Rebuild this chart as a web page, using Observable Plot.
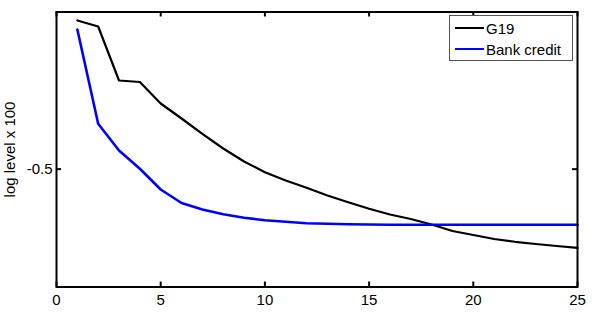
<!DOCTYPE html>
<html>
<head>
<meta charset="utf-8">
<script src="https://cdn.jsdelivr.net/npm/d3@7"></script>
<script src="https://cdn.jsdelivr.net/npm/@observablehq/plot@0.6"></script>
<style>
  html, body { margin: 0; padding: 0; background: #fff; }
  #wrap { position: relative; width: 600px; height: 323px; font-family: "Liberation Sans", Arial, Helvetica, sans-serif; }
  #legend { position: absolute; left: 449px; top: 15px; width: 122px; height: 44px; border: 1px solid #555; background: #fff; font-size: 15px; color: #000; }
  .row { position: absolute; left: 0; height: 20px; display: flex; align-items: center; }
  .sw { display: inline-block; width: 29px; margin-left: 5px; margin-right: 2px; }
</style>
</head>
<body>
<div id="wrap"></div>
<script>
const steps = [1,2,3,4,5,6,7,8,9,10,11,12,13,14,15,16,17,18,19,20,21,22,23,24,25];
const g19 = [-0.1216,-0.1369,-0.2744,-0.2782,-0.3329,-0.3711,-0.4100,-0.4475,-0.4805,-0.5078,-0.5289,-0.5475,-0.5671,-0.5841,-0.6009,-0.6155,-0.6269,-0.6409,-0.6575,-0.6676,-0.6778,-0.6849,-0.6905,-0.6956,-0.7002];
const bank = [-0.1445,-0.3846,-0.4525,-0.4991,-0.5518,-0.5862,-0.6027,-0.6147,-0.6238,-0.6300,-0.6340,-0.6376,-0.6391,-0.6402,-0.6409,-0.6414,-0.6414,-0.6414,-0.6414,-0.6414,-0.6414,-0.6414,-0.6414,-0.6414,-0.6414];
const seriesNames = ["G19", "Bank credit"];
const seriesColors = ["#000000", "#0000ff"];
const xTicks = [0,5,10,15,20,25];
const yTicks = [-0.5];
const yLabel = "log level x 100";

const data = steps.map((s, i) => ({s, g19: g19[i], bank: bank[i]}));

const chart = Plot.plot({
  width: 600,
  height: 323,
  marginLeft: 56,
  marginRight: 23,
  marginTop: 11.5,
  marginBottom: 36.5,
  x: {domain: [0, 25]},
  y: {domain: [-0.8, -0.1]},
  style: {fontFamily: "'Liberation Sans', Arial, Helvetica, sans-serif", fontSize: "15px", background: "white", color: "black"},
  marks: [
    Plot.line(data, {x: "s", y: "g19", stroke: seriesColors[0], strokeWidth: 2.2}),
    Plot.line(data, {x: "s", y: "bank", stroke: seriesColors[1], strokeWidth: 2.6}),
    Plot.tickX(xTicks, {x: d => d, insetTop: 270, stroke: "black", strokeWidth: 2}),
    Plot.tickX(xTicks, {x: d => d, insetBottom: 270, stroke: "black", strokeWidth: 2}),
    Plot.tickY(yTicks, {y: d => d, insetRight: 516, stroke: "black", strokeWidth: 2}),
    Plot.tickY(yTicks, {y: d => d, insetLeft: 516, stroke: "black", strokeWidth: 2}),
    Plot.axisX({ticks: xTicks, tickSize: 0, tickPadding: 7, tickFormat: d => String(d), label: null}),
    Plot.axisY({ticks: yTicks, tickSize: 0, tickPadding: 4, tickFormat: d => String(d), label: null}),
    Plot.text([yLabel], {frameAnchor: "left", textAnchor: "middle", dx: -46, rotate: -90, fontSize: 15, fill: "black"}),
    Plot.frame({stroke: "black", strokeWidth: 2})
  ]
});

const wrap = document.getElementById("wrap");
wrap.appendChild(chart);

const legend = document.createElement("div");
legend.id = "legend";
seriesNames.forEach((name, i) => {
  const row = document.createElement("div");
  row.className = "row";
  row.style.top = (i === 0 ? 2 : 23) + "px";
  const sw = document.createElement("span");
  sw.className = "sw";
  sw.style.borderTop = (i === 0 ? 2 : 2.5) + "px solid " + seriesColors[i];
  const t = document.createElement("span");
  t.textContent = name;
  row.appendChild(sw);
  row.appendChild(t);
  legend.appendChild(row);
});
wrap.appendChild(legend);
</script>
</body>
</html>
